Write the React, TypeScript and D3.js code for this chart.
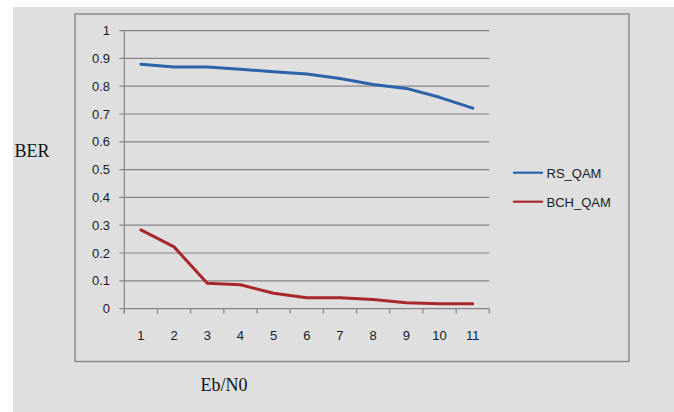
import React from "react";
import * as d3 from "d3";

const categories = ["1", "2", "3", "4", "5", "6", "7", "8", "9", "10", "11"];
const rsQam = [0.879, 0.869, 0.869, 0.861, 0.852, 0.844, 0.828, 0.806, 0.792, 0.76, 0.721];
const bchQam = [0.283, 0.222, 0.091, 0.086, 0.055, 0.039, 0.039, 0.033, 0.021, 0.017, 0.017];
const yTicks = [0, 0.1, 0.2, 0.3, 0.4, 0.5, 0.6, 0.7, 0.8, 0.9, 1];
const yTickLabels = ["0", "0.1", "0.2", "0.3", "0.4", "0.5", "0.6", "0.7", "0.8", "0.9", "1"];

const series = [
  { name: "RS_QAM", values: rsQam, color: "#2c62a8" },
  { name: "BCH_QAM", values: bchQam, color: "#a8282a" },
];

export default function App() {
  const W = 674, H = 412;
  const left = 124.3, right = 489.3, top = 30.6, bottom = 308.6;
  const x = d3.scaleBand<string>().domain(categories).range([left, right]);
  const y = d3.scaleLinear().domain([0, 1]).range([bottom, top]);
  const line = d3
    .line<number>()
    .x((_, i) => (x(categories[i]) as number) + x.bandwidth() / 2)
    .y((d) => y(d));
  const sans = "'Liberation Sans', Arial, sans-serif";
  const serif = "'Liberation Serif', 'Times New Roman', serif";
  const grid = "#858585";
  const tickXs = [...categories.map((c) => x(c) as number), right];
  return (
    <svg width={W} height={H} style={{ position: "absolute", left: 0, top: 0, background: "#fff" }}>
      <rect x={13} y={7} width={W - 13} height={H - 7} fill="#dfdfdf" />
      <rect x={75} y={14} width={554} height={347.5} fill="none" stroke="#8a8a8a" strokeWidth={1.5} />
      {yTicks.map((t, i) => (
        <g key={t}>
          <line x1={left - 5} x2={right} y1={y(t)} y2={y(t)} stroke={grid} strokeWidth={1.2} />
          <text x={110} y={y(t) + 4.5} textAnchor="end" fontFamily={sans} fontSize={13} fill="#1a1a2a">
            {yTickLabels[i]}
          </text>
        </g>
      ))}
      <line x1={left} x2={left} y1={top} y2={bottom + 5} stroke={grid} strokeWidth={1.2} />
      {tickXs.map((tx, i) => (
        <line key={i} x1={tx} x2={tx} y1={bottom} y2={bottom + 5} stroke={grid} strokeWidth={1.2} />
      ))}
      {categories.map((c) => (
        <text
          key={c}
          x={(x(c) as number) + x.bandwidth() / 2}
          y={339.5}
          textAnchor="middle"
          fontFamily={sans}
          fontSize={13}
          fill="#1a1a2a"
        >
          {c}
        </text>
      ))}
      {series.map((s) => (
        <path
          key={s.name}
          d={line(s.values) || ""}
          fill="none"
          stroke={s.color}
          strokeWidth={3}
          strokeLinejoin="round"
          strokeLinecap="round"
        />
      ))}
      {series.map((s, i) => (
        <g key={s.name}>
          <line x1={513} x2={543} y1={172.7 + i * 29} y2={172.7 + i * 29} stroke={s.color} strokeWidth={2.2} />
          <text x={546.5} y={177.5 + i * 29} fontFamily={sans} fontSize={13} fill="#1a1a2a">
            {s.name}
          </text>
        </g>
      ))}
      <text x={14.5} y={157} fontFamily={serif} fontSize={18} fill="#111">
        BER
      </text>
      <text x={200.5} y={391} fontFamily={serif} fontSize={18} fill="#111">
        Eb/N0
      </text>
    </svg>
  );
}
